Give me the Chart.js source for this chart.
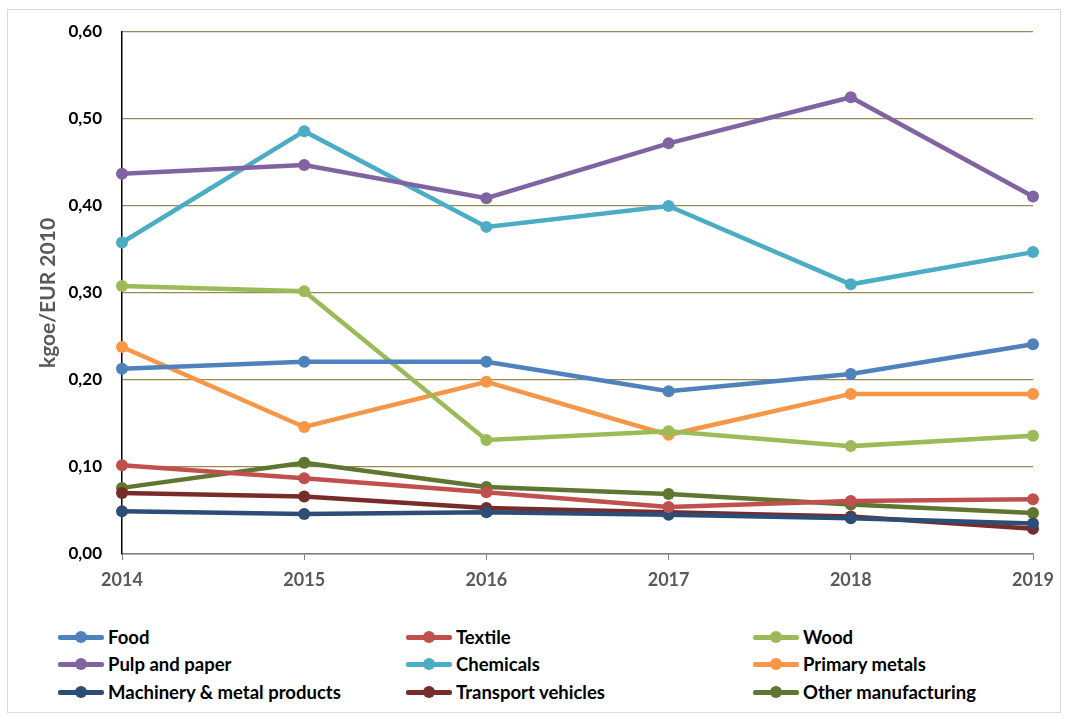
<!DOCTYPE html>
<html><head><meta charset="utf-8">
<script src="https://cdn.jsdelivr.net/npm/chart.js@4.4.1/dist/chart.umd.min.js"></script>
<style>
html,body{margin:0;padding:0;background:#fff;}
#frame{position:absolute;left:7px;top:9px;width:1054px;height:704px;border:1px solid #d9d9d9;box-sizing:border-box;}
#wrap{position:absolute;left:0;top:0;width:1068px;height:600px;}
#legend{position:absolute;left:58px;top:626px;width:1000px;font-family:Lato,"Open Sans",sans-serif;font-weight:bold;font-size:18.5px;color:#000;}
.item{position:absolute;display:flex;align-items:center;white-space:nowrap;height:22px;}
.sw{position:relative;width:46px;height:12px;margin-right:4px;}
.sw .ln{position:absolute;left:0;top:4px;width:46px;height:4.5px;border-radius:2px;}
.sw .dt{position:absolute;left:17px;top:0;width:12px;height:12px;border-radius:50%;}
</style></head>
<body>
<div id="frame"></div>
<div id="wrap"><canvas id="c" width="1068" height="600"></canvas></div>
<div id="legend"></div>
<script>
const years = ["2014","2015","2016","2017","2018","2019"];
const yTicks = [0,0.1,0.2,0.3,0.4,0.5,0.6];
const seriesNames = ["Food","Textile","Wood","Pulp and paper","Chemicals","Primary metals","Machinery & metal products","Transport vehicles","Other manufacturing"];
const food = [0.213,0.221,0.221,0.187,0.207,0.241];
const textile = [0.102,0.087,0.071,0.054,0.061,0.063];
const wood = [0.308,0.302,0.131,0.141,0.124,0.136];
const pulp = [0.437,0.447,0.409,0.472,0.525,0.411];
const chemicals = [0.358,0.486,0.376,0.400,0.310,0.347];
const primaryMetals = [0.238,0.146,0.198,0.137,0.184,0.184];
const machinery = [0.049,0.046,0.048,0.045,0.041,0.035];
const transport = [0.070,0.066,0.053,0.048,0.043,0.029];
const otherMfg = [0.076,0.105,0.077,0.069,0.057,0.047];
const colors = ["#4F81BD","#C0504D","#9BBB59","#8064A2","#4BACC6","#F79646","#2C4D75","#772C2A","#5F7530"];
const values = [food,textile,wood,pulp,chemicals,primaryMetals,machinery,transport,otherMfg];

const FONT = 'Lato, "Open Sans", sans-serif';
const datasets = seriesNames.map((n,i)=>({
  label:n, data:values[i], borderColor:colors[i], backgroundColor:colors[i],
  borderWidth:4.5, pointRadius:6, pointHoverRadius:6, pointBorderWidth:0, tension:0, fill:false
}));
new Chart(document.getElementById('c'),{
  type:'line',
  data:{labels:years,datasets:datasets},
  options:{
    responsive:false,animation:false,
    layout:{padding:{left:0,top:32,right:35,bottom:0}},
    plugins:{legend:{display:false},tooltip:{enabled:false}},
    scales:{
      x:{type:'category',offset:false,
        grid:{drawOnChartArea:false,drawTicks:true,tickLength:6,color:'#7f7f7f'},
        border:{color:'#7f7f7f',width:1.5},
        ticks:{color:'#595959',font:{family:FONT,size:18,weight:'bold'},padding:9,maxRotation:0},
        afterFit:s=>{s.height=46;}
      },
      y:{min:0,max:0.6,
        afterBuildTicks:s=>{s.ticks=yTicks.map(v=>({value:v}));},
        grid:{color:'#948A54',lineWidth:1.3,drawTicks:false},
        border:{color:'#000',width:1.5},
        ticks:{color:'#000',font:{family:FONT,size:17,weight:'bold'},padding:20,
          callback:v=>v.toFixed(2).replace('.',',')},
        title:{display:true,text:'kgoe/EUR 2010',color:'#595959',font:{family:FONT,size:21,weight:'bold'},padding:{top:36,bottom:0}},
        afterFit:s=>{s.width=122;}
      }
    }
  }
});
const lg=document.getElementById('legend');
const colX=[0,348,695], rowY=[0,27,55];
seriesNames.forEach((n,i)=>{
  const d=document.createElement('div');d.className='item';
  d.style.left=colX[i%3]+'px';d.style.top=rowY[Math.floor(i/3)]+'px';
  d.innerHTML='<span class="sw"><span class="ln" style="background:'+colors[i]+'"></span><span class="dt" style="background:'+colors[i]+'"></span></span>';
  const t=document.createElement('span');t.textContent=n;d.appendChild(t);
  lg.appendChild(d);
});
</script>
</body></html>
